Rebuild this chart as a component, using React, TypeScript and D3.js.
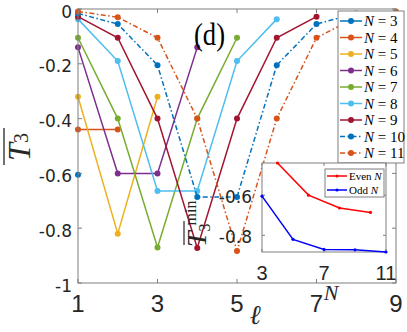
import React from 'react'
import * as d3 from 'd3'

const W = 407
const H = 332

// main panel: T3 vs ell, one series per N (ell = 1 .. N-2)
const nLabels = [3, 4, 5, 6, 7, 8, 9, 10, 11]
const seriesColors = ['#0072BD', '#D95319', '#EDB120', '#7E2F8E', '#77AC30', '#4DBEEE', '#A2142F', '#0072BD', '#D95319']
const seriesDashDot = [false, false, false, false, false, false, false, true, true]

const t3N3 = [-0.605]
const t3N4 = [-0.44, -0.44]
const t3N5 = [-0.32, -0.82, -0.32]
const t3N6 = [-0.14, -0.6, -0.6, -0.14]
const t3N7 = [-0.105, -0.4, -0.87, -0.4, -0.105]
const t3N8 = [-0.037, -0.19, -0.664, -0.664, -0.19, -0.037]
const t3N9 = [-0.028, -0.105, -0.4, -0.872, -0.4, -0.105, -0.028]
const t3N10 = [-0.016, -0.055, -0.205, -0.686, -0.686, -0.205, -0.055, -0.016]
const t3N11 = [-0.009, -0.03, -0.105, -0.4, -0.883, -0.4, -0.105, -0.03, -0.009]
const allSeries = [t3N3, t3N4, t3N5, t3N6, t3N7, t3N8, t3N9, t3N10, t3N11]

const xTicks = [1, 3, 5, 7, 9]
const yTicks = [0, -0.2, -0.4, -0.6, -0.8, -1]

// inset: minimum of T3 vs N
const evenN = [4, 6, 8, 10]
const evenMin = [-0.44, -0.6, -0.664, -0.686]
const oddN = [3, 5, 7, 9, 11]
const oddMin = [-0.605, -0.82, -0.87, -0.872, -0.883]
const insetXTicks = [3, 7, 11]
const insetYTicks = [-0.6, -0.8]

const axisGray = '#7f7f7f'
const textCol = '#262626'
const dashDot = '5,2.5,1.5,2.5'

function fmt(v: number) {
  return v === 0 ? '0' : v === -1 ? '-1' : String(v)
}

export default function App() {
  const m = {left: 78, right: 396, top: 9, bottom: 283}
  const x = d3.scaleLinear().domain([1, 9]).range([m.left, m.right])
  const y = d3.scaleLinear().domain([-1, 0]).range([m.bottom, m.top])

  const ins = {left: 262, right: 386, top: 163, bottom: 252}
  const ix = d3.scaleLinear().domain([3, 11]).range([ins.left, ins.right])
  const iy = d3.scaleLinear().domain([-0.883, -0.44]).range([ins.bottom, ins.top])

  const line = d3.line<number>().x((d, i) => x(i + 1)).y(d => y(d))
  const insLine = d3.line<[number, number]>().x(d => ix(d[0])).y(d => iy(d[1]))

  const evenPts: [number, number][] = evenN.map((n, i) => [n, evenMin[i]])
  const oddPts: [number, number][] = oddN.map((n, i) => [n, oddMin[i]])

  const leg = {x: 338, y: 11, w: 66, h: 152, step: 16.5}

  return (
    <svg width={W} height={H} style={{position: 'absolute', left: 0, top: 0}}>
      <rect width={W} height={H} fill='white' />

      {/* series */}
      {allSeries.map((s, k) => (
        <g key={'s' + k}>
          <path d={line(s) || ''} fill='none' stroke={seriesColors[k]} strokeWidth={1.5}
            strokeDasharray={seriesDashDot[k] ? dashDot : undefined} />
          {s.map((v, i) => (
            <circle key={i} cx={x(i + 1)} cy={y(v)} r={3} fill={seriesColors[k]} />
          ))}
        </g>
      ))}

      {/* main axes box and ticks */}
      <rect x={m.left} y={m.top} width={m.right - m.left} height={m.bottom - m.top}
        fill='none' stroke={axisGray} strokeWidth={1} />
      {xTicks.map(t => (
        <g key={'xt' + t}>
          <line x1={x(t)} x2={x(t)} y1={m.bottom} y2={m.bottom - 4} stroke={axisGray} />
          <line x1={x(t)} x2={x(t)} y1={m.top} y2={m.top + 4} stroke={axisGray} />
          <text x={x(t)} y={312} textAnchor='middle' fontSize={24}
            fontFamily='Liberation Sans, Arial, sans-serif' fill={textCol}>{t}</text>
        </g>
      ))}
      {yTicks.map(t => (
        <g key={'yt' + t}>
          <line x1={m.left} x2={m.left + 4} y1={y(t)} y2={y(t)} stroke={axisGray} />
          <line x1={m.right} x2={m.right - 4} y1={y(t)} y2={y(t)} stroke={axisGray} />
          <text x={72} y={y(t) + 8.5} textAnchor='end' fontSize={17}
            fontFamily='DejaVu Sans, sans-serif' fill={textCol}>{fmt(t)}</text>
        </g>
      ))}

      {/* axis labels */}
      <text x={255} y={324} textAnchor='middle' fontSize={27} fontStyle='italic'
        fontFamily='DejaVu Serif, serif' fill={textCol}>{'\u2113'}</text>
      <g transform='translate(30,147) rotate(-90)'>
        <text textAnchor='middle' fontFamily='Liberation Serif, serif' fill={textCol}>
          <tspan fontSize={32} fontStyle='italic'>T</tspan>
          <tspan fontSize={20} dy={-2}>3</tspan>
        </text>
        <line x1={-18} x2={19} y1={-26} y2={-26} stroke={textCol} strokeWidth={1.3} />
      </g>

      <text x={194} y={45} fontSize={32} fontFamily='Liberation Serif, serif' fill='#000'
        textLength={31} lengthAdjust='spacingAndGlyphs'>(d)</text>

      {/* legend */}
      <rect x={leg.x} y={leg.y} width={leg.w} height={leg.h} fill='white' stroke={axisGray} />
      {nLabels.map((n, k) => {
        const ly = leg.y + 10 + k * leg.step
        return (
          <g key={'lg' + n}>
            <line x1={leg.x + 2} x2={leg.x + 24} y1={ly} y2={ly} stroke={seriesColors[k]} strokeWidth={1.5}
              strokeDasharray={seriesDashDot[k] ? dashDot : undefined} />
            <circle cx={leg.x + 13} cy={ly} r={3} fill={seriesColors[k]} />
            <text x={leg.x + 26} y={ly + 5} fontSize={15} fontFamily='Liberation Serif, serif' fill='#000'>
              <tspan fontStyle='italic'>N</tspan> = {n}
            </text>
          </g>
        )
      })}

      {/* inset */}
      <rect x={ins.left} y={ins.top} width={ins.right - ins.left} height={ins.bottom - ins.top}
        fill='white' stroke={axisGray} />
      {insetXTicks.map(t => (
        <g key={'ixt' + t}>
          <line x1={ix(t)} x2={ix(t)} y1={ins.bottom} y2={ins.bottom - 3} stroke={axisGray} />
          <line x1={ix(t)} x2={ix(t)} y1={ins.top} y2={ins.top + 3} stroke={axisGray} />
          <text x={ix(t)} y={280} textAnchor='middle' fontSize={20}
            fontFamily='Liberation Sans, Arial, sans-serif' fill={textCol}>{t}</text>
        </g>
      ))}
      {insetYTicks.map(t => (
        <g key={'iyt' + t}>
          <line x1={ins.left} x2={ins.left + 3} y1={iy(t)} y2={iy(t)} stroke={axisGray} />
          <line x1={ins.right} x2={ins.right - 3} y1={iy(t)} y2={iy(t)} stroke={axisGray} />
          <text x={252} y={iy(t) + 8} textAnchor='end' fontSize={17}
            fontFamily='DejaVu Sans, sans-serif' fill={textCol}>{String(t)}</text>
        </g>
      ))}
      <path d={insLine(evenPts) || ''} fill='none' stroke='#FF0000' strokeWidth={1.5} />
      {evenPts.map((p, i) => <circle key={'e' + i} cx={ix(p[0])} cy={iy(p[1])} r={1.6} fill='#FF0000' />)}
      <path d={insLine(oddPts) || ''} fill='none' stroke='#0000FF' strokeWidth={1.5} />
      {oddPts.map((p, i) => <circle key={'o' + i} cx={ix(p[0])} cy={iy(p[1])} r={1.6} fill='#0000FF' />)}

      <rect x={325} y={169} width={59} height={28} fill='white' stroke={axisGray} />
      {[['Even', '#FF0000'], ['Odd', '#0000FF']].map((e, i) => {
        const ly = 176 + i * 14
        return (
          <g key={'il' + i}>
            <line x1={327} x2={347} y1={ly} y2={ly} stroke={e[1]} strokeWidth={1.5} />
            <circle cx={337} cy={ly} r={1.6} fill={e[1]} />
            <text x={349} y={ly + 3.5} fontSize={11} fontFamily='Liberation Serif, serif' fill='#000'>
              {e[0]} <tspan fontStyle='italic'>N</tspan>
            </text>
          </g>
        )
      })}

      <text x={331} y={300} textAnchor='middle' fontSize={22} fontStyle='italic'
        fontFamily='Liberation Serif, serif' fill={textCol}>N</text>
      <g transform='translate(206,215) rotate(-90)'>
        <text x={-32} fontFamily='Liberation Serif, serif' fill={textCol}>
          <tspan fontSize={28} fontStyle='italic'>T</tspan>
          <tspan fontSize={16} dy={4}>3</tspan>
          <tspan fontSize={16} dy={-14} dx={-2}>min</tspan>
        </text>
        <line x1={-30} x2={-6} y1={-22} y2={-22} stroke={textCol} strokeWidth={1.2} />
      </g>
    </svg>
  )
}
